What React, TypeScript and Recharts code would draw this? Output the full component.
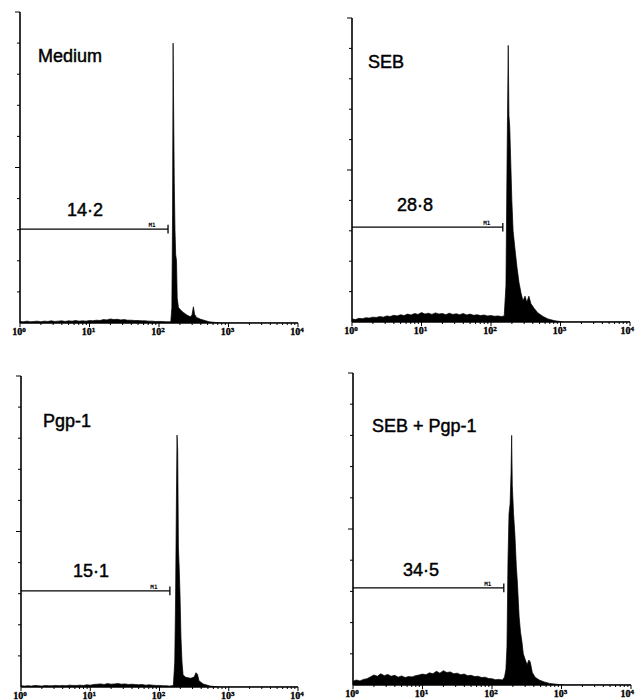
import React from 'react';
import { AreaChart, Area, XAxis, YAxis, ReferenceLine, ReferenceDot } from 'recharts';

// ---- data (x = log10 fluorescence channel, c = relative cell count) ----
const bgLog = [0, 0.05, 0.1, 0.15, 0.2, 0.25, 0.3, 0.35, 0.4, 0.45, 0.5, 0.55, 0.6, 0.65, 0.7, 0.75, 0.8, 0.85, 0.9, 0.95,
  1.0, 1.05, 1.1, 1.15, 1.2, 1.25, 1.3, 1.35, 1.4, 1.45, 1.5, 1.55, 1.6, 1.65, 1.7, 1.75, 1.8, 1.85, 1.9, 1.95,
  2.0, 2.05, 2.1, 2.15];

const mediumBg = [0.5, 0.4, 0.6, 0.4, 0.5, 0.6, 0.4, 0.6, 0.5, 0.7, 0.5, 0.6, 0.7, 0.5, 0.7, 0.6, 0.8, 0.6, 0.7, 0.6,
  0.8, 0.7, 0.9, 0.8, 1.1, 1.0, 1.3, 1.1, 1.2, 1.0, 1.1, 0.9, 0.9, 0.8, 0.8, 0.7, 0.7, 0.6, 0.6, 0.5,
  0.5, 0.5, 0.4, 0.4];
const mediumPeakLog = [2.17, 2.185, 2.195, 2.203, 2.21, 2.22, 2.23, 2.24, 2.252, 2.262, 2.28, 2.31, 2.35, 2.4, 2.45,
  2.475, 2.495, 2.512, 2.54, 2.6, 2.66, 2.72, 2.8, 2.9, 4.0];
const mediumPeak = [0.5, 5, 35, 90, 70, 45, 30, 22, 20, 8, 5, 4.2, 3.4, 2.6, 2.0,
  2.6, 5.2, 2.8, 1.8, 1.2, 0.8, 0.4, 0.2, 0, 0];

const sebBg = [1.0, 0.8, 1.2, 1.1, 1.4, 1.3, 1.6, 1.5, 1.8, 1.6, 2.0, 1.8, 2.2, 2.0, 2.4, 2.1, 2.6, 2.3, 2.8, 2.5,
  3.1, 2.6, 2.9, 2.5, 3.0, 2.6, 2.8, 2.4, 2.9, 2.5, 2.7, 2.4, 2.8, 2.3, 2.6, 2.2, 2.4, 2.1, 2.3, 2.0,
  2.1, 1.9, 2.0, 1.8];
const sebPeakLog = [2.19, 2.215, 2.232, 2.248, 2.258, 2.27, 2.285, 2.3, 2.318, 2.345, 2.374, 2.403, 2.432, 2.46,
  2.49, 2.515, 2.545, 2.575, 2.62, 2.675, 2.75, 2.82, 2.92, 3.05, 4.0];
const sebPeak = [2, 12, 55, 91, 68, 64, 52, 40, 30, 24, 18, 13, 9.5, 7,
  8.5, 6.5, 8.5, 6, 4.5, 3, 1.8, 1, 0.4, 0, 0];

const pgpBg = [0.4, 0.3, 0.4, 0.3, 0.5, 0.4, 0.3, 0.5, 0.4, 0.4, 0.5, 0.4, 0.5, 0.4, 0.6, 0.5, 0.5, 0.6, 0.5, 0.7,
  0.6, 0.8, 0.9, 1.0, 0.8, 1.1, 0.9, 1.0, 1.1, 0.9, 1.0, 0.8, 0.9, 0.8, 0.7, 0.8, 0.6, 0.7, 0.6, 0.5,
  0.5, 0.4, 0.4, 0.3];
const pgpPeakLog = [2.2, 2.22, 2.232, 2.245, 2.253, 2.263, 2.273, 2.285, 2.296, 2.31, 2.325, 2.34, 2.37, 2.41,
  2.45, 2.5, 2.527, 2.55, 2.57, 2.63, 2.73, 2.87, 4.0];
const pgpPeak = [0.5, 8, 28, 62, 81, 76, 45, 38, 30, 16, 8, 4, 3.2, 3,
  2.8, 3.2, 4.6, 4, 2, 1, 0.3, 0, 0];

const sebPgpBg = [1.2, 1.6, 1.3, 1.8, 2.0, 2.6, 3.2, 2.8, 3.6, 3.0, 3.4, 2.8, 3.1, 2.5, 2.9, 2.4, 2.7, 2.6, 3.0, 3.2,
  3.5, 3.3, 3.9, 3.6, 4.4, 3.8, 4.6, 4.0, 4.2, 3.6, 3.8, 3.3, 3.5, 3.0, 3.1, 2.7, 2.8, 2.4, 2.5, 2.1,
  2.0, 1.7, 1.8, 1.6];
const sebPgpPeakLog = [2.18, 2.2, 2.215, 2.23, 2.245, 2.26, 2.274, 2.283, 2.292, 2.31, 2.33, 2.35, 2.365, 2.39,
  2.41, 2.43, 2.45, 2.48, 2.505, 2.53, 2.55, 2.58, 2.62, 2.68, 2.75, 2.83, 2.95, 3.05, 4.0];
const sebPgpPeak = [2.5, 5, 12, 40, 55, 58, 68, 80, 64, 55, 48, 38, 33, 22,
  17, 14, 10, 8, 6.5, 8, 7.4, 4, 2.5, 1.6, 1, 0.5, 0.2, 0, 0];

const panelTitles = ['Medium', 'SEB', 'Pgp-1', 'SEB + Pgp-1'];
const gatePercents = ['14·2', '28·8', '15·1', '34·5'];
const gateEnd = [2.13, 2.17, 2.15, 2.17];
const gateLevel = [30.2, 31.2, 30.9, 31.1];
const gateName = 'M1';
const decadeExponents = ['0', '1', '2', '3', '4'];
const yTicks = [0, 10, 20, 30, 40, 50, 60, 70, 80, 90, 100];

const xTicks: number[] = [];
for (let d = 0; d < 4; d++) {
  for (let k = 1; k <= 9; k++) xTicks.push(d + Math.log10(k));
}
xTicks.push(4);

const build = (bg: number[], pl: number[], pv: number[]) => [
  ...bgLog.map((x, i) => ({ x, c: bg[i] })),
  ...pl.map((x, i) => ({ x, c: pv[i] })),
];

const datasets = [
  build(mediumBg, mediumPeakLog, mediumPeak),
  build(sebBg, sebPeakLog, sebPeak),
  build(pgpBg, pgpPeakLog, pgpPeak),
  build(sebPgpBg, sebPgpPeakLog, sebPgpPeak),
];

// ---- layout ----
const layout = [
  { left: 0, top: 0, width: 320, height: 345, margin: { top: 12, right: 22, bottom: 6, left: 8 },
    title: { left: 38, top: 46.5 }, pct: { left: 67, top: 201 } },
  { left: 320, top: 0, width: 315, height: 345, margin: { top: 18, right: 5, bottom: 7, left: 20 },
    title: { left: 368, top: 53 }, pct: { left: 397, top: 196 } },
  { left: 0, top: 350, width: 320, height: 355, margin: { top: 26, right: 22, bottom: 2, left: 9 },
    title: { left: 43, top: 412 }, pct: { left: 73, top: 562 } },
  { left: 320, top: 350, width: 315, height: 355, margin: { top: 23, right: 4, bottom: 4, left: 21 },
    title: { left: 372, top: 417 }, pct: { left: 403, top: 561 } },
];

const makeXTick = (chartWidth: number) => (props: any) => {
  const { x, y, payload } = props;
  const v = payload.value as number;
  const major = Math.abs(v - Math.round(v)) < 1e-6;
  // keep the last label inside the chart when the axis ends near the edge
  const nearEdge = x > chartWidth - 9;
  const tx = nearEdge ? chartWidth - 1 : x - 1;
  return (
    <g>
      <line x1={x} x2={x} y1={y} y2={y + (major ? 4 : 2)} stroke="#000" strokeWidth={1} />
      {major && (
        <text x={tx} y={y + 12} textAnchor={nearEdge ? 'end' : 'middle'} fontFamily="'Liberation Serif', serif"
          fontWeight="bold" fontSize={10} fill="#000" stroke="#000" strokeWidth={0.35}>
          10<tspan dy={-3.5} fontSize={7}>{decadeExponents[Math.round(v)]}</tspan>
        </text>
      )}
    </g>
  );
};

const YTick = (props: any) => {
  const { x, y, payload } = props;
  const v = payload.value as number;
  if (v === 0) return <g />;
  const len = v === 100 || v === 50 ? 5 : 3;
  return <line x1={x - len} x2={x} y1={y} y2={y} stroke="#000" strokeWidth={1} />;
};

const labelStyle: React.CSSProperties = {
  position: 'absolute',
  fontFamily: "'Liberation Sans', Arial, sans-serif",
  fontSize: 18,
  lineHeight: '18px',
  color: '#000',
  whiteSpace: 'nowrap',
  WebkitTextStroke: '0.45px #000',
};

export default function App() {
  return (
    <div style={{ position: 'absolute', left: 0, top: 0, width: 635, height: 700, overflow: 'hidden', background: '#fff' }}>
      {layout.map((p, i) => (
        <div key={i} style={{ position: 'absolute', left: p.left, top: p.top, width: p.width, height: p.height }}>
          <AreaChart width={p.width} height={p.height} data={datasets[i]} margin={p.margin}>
            <XAxis type="number" dataKey="x" domain={[0, 4]} ticks={xTicks} interval={0} tick={makeXTick(p.width)}
              tickLine={false} tickSize={0} tickMargin={0} height={16} allowDataOverflow
              axisLine={{ stroke: '#000', strokeWidth: 1.6 }} />
            <YAxis type="number" domain={[0, 100]} ticks={yTicks} interval={0} tick={YTick}
              tickLine={false} tickSize={0} tickMargin={0} width={12} allowDataOverflow
              axisLine={{ stroke: '#000', strokeWidth: 1.6 }} />
            <Area dataKey="c" type="linear" stroke="#000" strokeWidth={0.7} fill="#000" fillOpacity={1}
              isAnimationActive={false} dot={false} activeDot={false} />
            <ReferenceLine segment={[{ x: 0, y: gateLevel[i] }, { x: gateEnd[i], y: gateLevel[i] }]}
              stroke="#000" strokeWidth={1.3} />
            <ReferenceLine segment={[{ x: gateEnd[i], y: gateLevel[i] - 1.4 }, { x: gateEnd[i], y: gateLevel[i] + 1.4 }]}
              stroke="#000" strokeWidth={1.3} />
            <ReferenceDot x={gateEnd[i] - 0.23} y={gateLevel[i]} r={0}
              shape={(sp: any) => (
                <text x={sp.cx} y={sp.cy - 2} textAnchor="middle" fontFamily="'DejaVu Sans Mono', monospace"
                  fontWeight="bold" fontSize={6} fill="#000">{gateName}</text>
              )} />
          </AreaChart>
        </div>
      ))}
      {layout.map((p, i) => (
        <React.Fragment key={'t' + i}>
          <span style={{ ...labelStyle, left: p.title.left, top: p.title.top }}>{panelTitles[i]}</span>
          <span style={{ ...labelStyle, left: p.pct.left, top: p.pct.top }}>{gatePercents[i]}</span>
        </React.Fragment>
      ))}
    </div>
  );
}
